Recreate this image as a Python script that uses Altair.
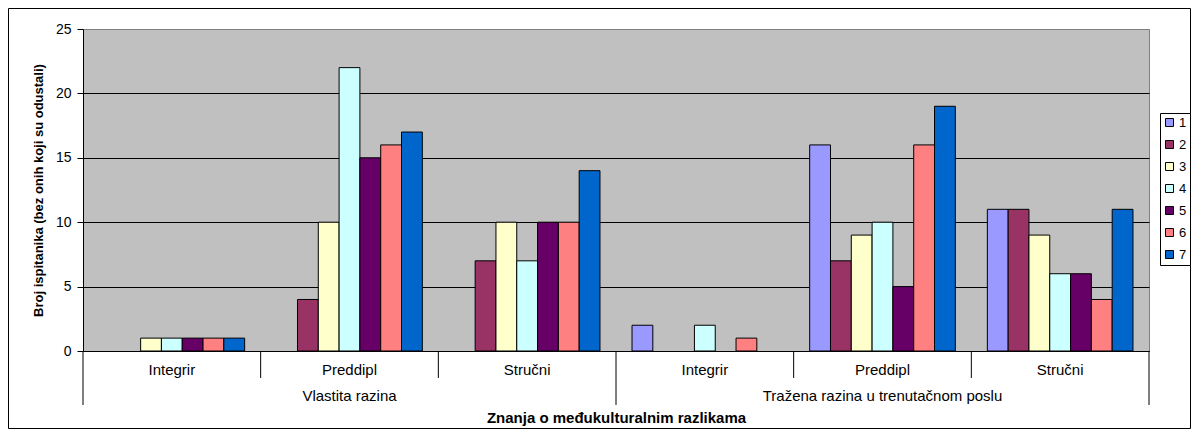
import altair as alt
import pandas as pd

outer = ["Vlastita razina", "Tražena razina u trenutačnom poslu"]
inner = ["Integrir", "Preddipl", "Stručni"]
series = ["1", "2", "3", "4", "5", "6", "7"]
colors = ["#9999FF", "#993366", "#FFFFCC", "#CCFFFF", "#660066", "#FF8080", "#0066CC"]

# values per series across the 6 groups (outer x inner)
vals = {
    "1": [0, 0, 0, 2, 16, 11],
    "2": [0, 4, 7, 0, 7, 11],
    "3": [1, 10, 10, 0, 9, 9],
    "4": [1, 22, 7, 2, 10, 6],
    "5": [1, 15, 10, 0, 5, 6],
    "6": [1, 16, 10, 1, 16, 4],
    "7": [1, 17, 14, 0, 19, 11],
}

groups = [f"{o} | {i}" for o in outer for i in inner]
inner_of = {f"{o} | {i}": i for o in outer for i in inner}

rows = []
for s in series:
    for g, v in zip(groups, vals[s]):
        rows.append({"grp": g, "series": s, "value": v})
df = pd.DataFrame(rows)

lab_df = pd.DataFrame({"grp": groups, "label": [inner_of[g] for g in groups]})
outer_df = pd.DataFrame({"grp": [groups[1], groups[4]], "label": outer})
short_df = pd.DataFrame({"grp": [groups[1], groups[2], groups[4], groups[5]]})
long_df = pd.DataFrame({"grp": [groups[0], groups[3]]})
end_df = pd.DataFrame({"grp": [groups[5]]})
frame_df = pd.DataFrame({"a": [0]})

W, H = 1066, 322
xscale = alt.Scale(domain=groups, paddingInner=0, paddingOuter=0)
xaxis = alt.Axis(labels=False, ticks=False, domain=True, domainColor="black",
                 domainWidth=1, grid=False, title="Znanja o međukulturalnim razlikama",
                 titleFontSize=15, titleFontWeight="bold", titlePadding=59,
                 titleColor="black", zindex=2)

bars = alt.Chart(df).transform_filter("datum.value > 0").mark_bar(
    stroke="black", strokeWidth=1).encode(
    x=alt.X("grp:N", scale=xscale, axis=xaxis, sort=groups),
    xOffset=alt.XOffset("series:N", scale=alt.Scale(domain=series, paddingInner=0, paddingOuter=0.77)),
    y=alt.Y("value:Q", scale=alt.Scale(domain=[0, 25]),
            axis=alt.Axis(values=[0, 5, 10, 15, 20, 25], tickSize=6, tickColor="black",
                          domainColor="black", labelFontSize=14, labelColor="black",
                          labelPadding=6,
                          gridColor=alt.condition("datum.value == 25", alt.value("#808080"), alt.value("black")),
                          gridOpacity=1,
                          title="Broj ispitanika (bez onih koji su odustali)",
                          titleFontSize=13, titleFontWeight="bold", titlePadding=10,
                          titleColor="black")),
    color=alt.Color("series:N", scale=alt.Scale(domain=series, range=colors),
                    legend=alt.Legend(title=None, orient="none", legendX=1077, legendY=84,
                                      strokeColor="black", fillColor="white", padding=3,
                                      symbolType="square", symbolSize=64,
                                      symbolStrokeColor="black", symbolStrokeWidth=1,
                                      labelFontSize=13, labelColor="black", rowPadding=8,
                                      labelOffset=3)),
)

short_rules = alt.Chart(short_df).mark_rule(color="black", strokeWidth=1).encode(
    x=alt.X("grp:N", scale=xscale, axis=xaxis, bandPosition=0),
    y=alt.value(H), y2=alt.value(H + 27),
)
long_rules = alt.Chart(long_df).mark_rule(color="black", strokeWidth=1).encode(
    x=alt.X("grp:N", scale=xscale, axis=xaxis, bandPosition=0),
    y=alt.value(H), y2=alt.value(H + 54),
)
end_rule = alt.Chart(end_df).mark_rule(color="black", strokeWidth=1).encode(
    x=alt.X("grp:N", scale=xscale, axis=xaxis, bandPosition=1),
    y=alt.value(H), y2=alt.value(H + 54),
)
inner_text = alt.Chart(lab_df).mark_text(fontSize=15, color="black", baseline="middle").encode(
    x=alt.X("grp:N", scale=xscale, axis=xaxis, bandPosition=0.5),
    y=alt.value(H + 19), text="label:N",
)
outer_text = alt.Chart(outer_df).mark_text(fontSize=15, color="black", baseline="middle").encode(
    x=alt.X("grp:N", scale=xscale, axis=xaxis, bandPosition=0.5),
    y=alt.value(H + 45), text="label:N",
)
frame = alt.Chart(frame_df).mark_rect(fill="transparent", stroke="black", strokeWidth=1).encode(
    x=alt.value(-74.5), x2=alt.value(1184 - 75 - 1.5),
    y=alt.value(-20.5), y2=alt.value(422 - 21 - 1.5),
)

chart = alt.layer(bars, short_rules, long_rules, end_rule, inner_text, outer_text, frame).properties(
    width=W, height=H,
    autosize=alt.AutoSizeParams(type="none"),
    padding={"left": 75, "top": 21, "right": 1184 - 75 - W, "bottom": 422 - 21 - H},
).configure(font="Liberation Sans").configure_view(
    fill="#C0C0C0", stroke="#808080", strokeWidth=1
).configure_axisY(gridWidth=1)

chart.save("out.html", embed_options={"renderer": "svg", "actions": False})
